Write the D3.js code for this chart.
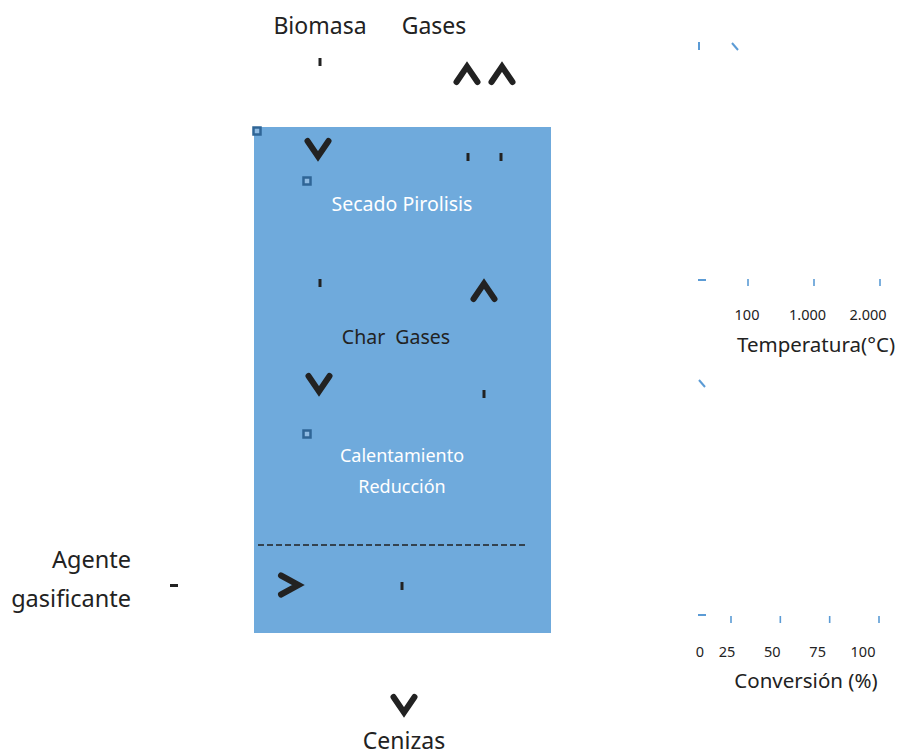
<!DOCTYPE html>
<html>
<head>
<meta charset="utf-8">
<script src="https://cdn.jsdelivr.net/npm/d3@7"></script>
<style>
  body { margin: 0; background: #fff; }
  svg { display: block; }
  text { white-space: pre; }
</style>
</head>
<body>
<div id="chart"></div>
<script>
// ---- data ----
const outsideLabels = ["Biomasa", "Gases", "Agente", "gasificante", "Cenizas"];
const zoneLabels = ["Secado Pirolisis", "Char  Gases", "Calentamiento", "Reducción"];
const tempTicks = ["100", "1.000", "2.000"];
const tempTitle = "Temperatura(°C)";
const convTicks = ["25", "50", "75", "100"];
const convZero = "0";
const convTitle = "Conversión (%)";

const width = 899, height = 755;
const dark = "#222";
const blue = "#6faadc";
const tickBlue = "#5b9bd5";
const font = "'Noto Sans', sans-serif";

const svg = d3.select("#chart").append("svg")
    .attr("width", width).attr("height", height)
    .attr("viewBox", `0 0 ${width} ${height}`);

// reactor (caja azul)
svg.append("rect")
    .attr("x", 254).attr("y", 127)
    .attr("width", 297).attr("height", 506)
    .attr("fill", blue);

// línea discontinua
svg.append("line")
    .attr("x1", 258).attr("x2", 526)
    .attr("y1", 545).attr("y2", 545)
    .attr("stroke", dark).attr("stroke-width", 1.6)
    .attr("stroke-dasharray", "6,3");

// textos
const txt = (s, x, y, size, color, anchor) => svg.append("text")
    .attr("x", x).attr("y", y)
    .attr("font-family", font).attr("font-size", size)
    .attr("fill", color).attr("text-anchor", anchor || "middle")
    .attr("xml:space", "preserve")
    .text(s);

txt(outsideLabels[0], 320, 34, 23, dark);
txt(outsideLabels[1], 434, 34, 23, dark);
txt(outsideLabels[2], 131, 568, 23.5, dark, "end");
txt(outsideLabels[3], 131, 607, 23.5, dark, "end");
txt(outsideLabels[4], 404, 749, 23, dark);

// textos de zona
txt(zoneLabels[0], 402, 211, 19.5, "#fff");
txt(zoneLabels[1], 396, 344, 19.5, dark);
txt(zoneLabels[2], 402, 462, 18, "#fff");
txt(zoneLabels[3], 402, 493, 18, "#fff");

// flechas (chevrones)
const chevron = {
    up:    "M-10.5,8 L0,-7.5 L10.5,8",
    down:  "M-10.5,-8 L0,7.5 L10.5,-8",
    right: "M-9,-9.5 L8.5,0 L-9,9.5"
};
const arrows = [
    ["up", 467, 74], ["up", 502, 74],
    ["down", 318, 149], ["up", 484, 291],
    ["down", 319, 384], ["right", 290, 585],
    ["down", 404, 705]
];
svg.selectAll("path.arrow")
    .data(arrows)
    .enter()
    .append("path")
    .attr("class", "arrow")
    .attr("d", d => chevron[d[0]])
    .attr("transform", d => `translate(${d[1]},${d[2]})`)
    .attr("fill", "none")
    .attr("stroke", dark)
    .attr("stroke-width", 6)
    .attr("stroke-linecap", "round")
    .attr("stroke-linejoin", "miter");

// pequeñas marcas oscuras
const stubs = [[320, 62], [468, 157], [501, 157], [320, 283], [484, 394], [402, 586]];
svg.selectAll("rect.stub")
    .data(stubs)
    .enter()
    .append("rect")
    .attr("class", "stub")
    .attr("x", d => d[0] - 1.5).attr("y", d => d[1] - 4)
    .attr("width", 3).attr("height", 8)
    .attr("fill", dark);
svg.append("rect")
    .attr("x", 170).attr("y", 584).attr("width", 8).attr("height", 3)
    .attr("fill", dark);

// cuadraditos
const squares = [[257, 131], [307, 181], [307, 434]];
svg.selectAll("rect.sq")
    .data(squares)
    .enter()
    .append("rect")
    .attr("class", "sq")
    .attr("x", d => d[0] - 3.5).attr("y", d => d[1] - 3.5)
    .attr("width", 7).attr("height", 7)
    .attr("fill", "#8fbbe3")
    .attr("stroke", "#2f6596").attr("stroke-width", 2.5);

// marcas azules del lado derecho
const blueMark = (x1, y1, x2, y2) => svg.append("line")
    .attr("x1", x1).attr("y1", y1).attr("x2", x2).attr("y2", y2)
    .attr("stroke", tickBlue).attr("stroke-width", 2);
blueMark(699, 42, 699, 50);
blueMark(732, 43, 738, 50);
blueMark(698, 280, 706, 280);
blueMark(699, 380, 705, 387);

// eje temperatura
const tTick = d3.scalePoint().domain(tempTicks).range([748, 880]);
const tLabel = d3.scalePoint().domain(tempTicks).range([747, 868]);
svg.selectAll("line.ttick")
    .data(tempTicks)
    .enter()
    .append("line")
    .attr("class", "ttick")
    .attr("x1", d => tTick(d)).attr("x2", d => tTick(d))
    .attr("y1", 279).attr("y2", 286)
    .attr("stroke", tickBlue).attr("stroke-width", 1.6);
svg.selectAll("text.tlab")
    .data(tempTicks)
    .enter()
    .append("text")
    .attr("class", "tlab")
    .attr("x", d => tLabel(d)).attr("y", 320)
    .attr("text-anchor", "middle")
    .attr("font-family", font).attr("font-size", 14.5)
    .attr("fill", dark)
    .text(d => d);
txt(tempTitle, 816, 352, 20.5, dark);

// eje conversión
const cTick = d3.scaleLinear().domain([25, 100]).range([731, 879]);
const cLabel = d3.scalePoint().domain(convTicks).range([727, 863]);
svg.selectAll("line.ctick")
    .data(convTicks)
    .enter()
    .append("line")
    .attr("class", "ctick")
    .attr("x1", d => cTick(+d)).attr("x2", d => cTick(+d))
    .attr("y1", 616).attr("y2", 623)
    .attr("stroke", tickBlue).attr("stroke-width", 1.6);
blueMark(698, 615, 706, 615);
svg.selectAll("text.clab")
    .data(convTicks)
    .enter()
    .append("text")
    .attr("class", "clab")
    .attr("x", d => cLabel(d)).attr("y", 657)
    .attr("text-anchor", "middle")
    .attr("font-family", font).attr("font-size", 14.5)
    .attr("fill", dark)
    .text(d => d);
txt(convZero, 700, 657, 14.5, dark);
txt(convTitle, 806, 688, 20.5, dark);
</script>
</body>
</html>
